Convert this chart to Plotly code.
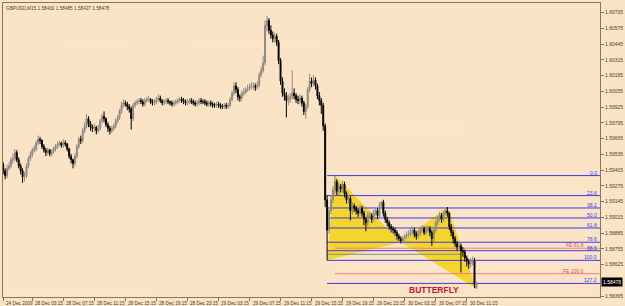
import plotly.graph_objects as go

# ---------------- data (GBPUSD M15) ----------------
opens = [
1.5945,1.5940,1.5936,1.5942,1.5944,1.5949,1.5950,1.5955,1.5949,1.5944,
1.5940,1.5935,1.5936,1.5944,1.5950,1.5953,1.5957,1.5958,1.5963,1.5966,
1.5965,1.5960,1.5957,1.5955,1.5957,1.5954,1.5956,1.5958,1.5960,1.5962,
1.5963,1.5961,1.5963,1.5962,1.5958,1.5952,1.5949,1.5946,1.5952,1.5960,
1.5966,1.5965,1.5973,1.5977,1.5983,1.5979,1.5976,1.5975,1.5976,1.5973,
1.5975,1.5981,1.5985,1.5983,1.5978,1.5975,1.5973,1.5975,1.5977,1.5981,
1.5984,1.5989,1.5994,1.5996,1.5995,1.5993,1.5991,1.5983,1.5994,1.5996,
1.5997,1.5998,1.5997,1.5995,1.5998,1.5999,1.5999,1.5997,1.5996,1.5997,
1.5999,1.6000,1.5998,1.5996,1.5997,1.5998,1.5997,1.5996,1.5995,1.5996,
1.5997,1.5998,1.5999,1.5998,1.5997,1.5996,1.5997,1.5998,1.5997,1.5996,
1.5995,1.5996,1.5998,1.5997,1.5997,1.5996,1.5995,1.5996,1.5995,1.5994,
1.5994,1.5995,1.5994,1.5993,1.5993,1.5994,1.5993,1.5994,1.5999,1.6004,
1.6010,1.6007,1.6001,1.6000,1.6004,1.6005,1.6007,1.6008,1.6009,1.6010,
1.6010,1.6009,1.6011,1.6019,1.6023,1.6029,1.6060,1.6064,1.6056,1.6052,
1.6049,1.6051,1.6046,1.6031,1.6014,1.6004,1.6002,1.5998,1.5999,1.6001,
1.6004,1.6002,1.5999,1.5998,1.6000,1.5996,1.5989,1.5993,1.6007,1.6014,
1.6012,1.6015,1.6010,1.6002,1.5998,1.5994,1.5977,1.5916,1.5891,1.5907,
1.5916,1.5924,1.5931,1.5923,1.5927,1.5925,1.5929,1.5921,1.5916,1.5917,
1.5907,1.5911,1.5909,1.5907,1.5905,1.5909,1.5905,1.5900,1.5897,1.5903,
1.5903,1.5900,1.5905,1.5907,1.5903,1.5911,1.5914,1.5905,1.5900,1.5897,
1.5894,1.5892,1.5891,1.5889,1.5886,1.5884,1.5882,1.5884,1.5886,1.5887,
1.5888,1.5889,1.5891,1.5888,1.5886,1.5888,1.5891,1.5892,1.5889,1.5891,
1.5892,1.5889,1.5884,1.5891,1.5897,1.5900,1.5903,1.5900,1.5905,1.5907,
1.5905,1.5894,1.5889,1.5884,1.5880,1.5877,1.5878,1.5874,1.5873,1.5868,
1.5865,1.5863,1.5865,1.5866,1.58430]

closes = [
1.5940,1.5936,1.5942,1.5944,1.5949,1.5950,1.5955,1.5949,1.5944,1.5940,
1.5935,1.5936,1.5944,1.5950,1.5953,1.5957,1.5958,1.5963,1.5966,1.5965,
1.5960,1.5957,1.5955,1.5957,1.5954,1.5956,1.5958,1.5960,1.5962,1.5963,
1.5961,1.5963,1.5962,1.5958,1.5952,1.5949,1.5946,1.5952,1.5960,1.5966,
1.5965,1.5973,1.5977,1.5983,1.5979,1.5976,1.5975,1.5976,1.5973,1.5975,
1.5981,1.5985,1.5983,1.5978,1.5975,1.5973,1.5975,1.5977,1.5981,1.5984,
1.5989,1.5994,1.5996,1.5995,1.5993,1.5991,1.5983,1.5994,1.5996,1.5997,
1.5998,1.5997,1.5995,1.5998,1.5999,1.5999,1.5997,1.5996,1.5997,1.5999,
1.6000,1.5998,1.5996,1.5997,1.5998,1.5997,1.5996,1.5995,1.5996,1.5997,
1.5998,1.5999,1.5998,1.5997,1.5996,1.5997,1.5998,1.5997,1.5996,1.5995,
1.5996,1.5998,1.5997,1.5997,1.5996,1.5995,1.5996,1.5995,1.5994,1.5994,
1.5995,1.5994,1.5993,1.5993,1.5994,1.5993,1.5994,1.5999,1.6004,1.6010,
1.6007,1.6001,1.6000,1.6004,1.6005,1.6007,1.6008,1.6009,1.6010,1.6010,
1.6009,1.6011,1.6019,1.6023,1.6029,1.6060,1.6064,1.6056,1.6052,1.6049,
1.6051,1.6046,1.6031,1.6014,1.6004,1.6002,1.5998,1.5999,1.6001,1.6004,
1.6002,1.5999,1.5998,1.6000,1.5996,1.5989,1.5993,1.6007,1.6014,1.6012,
1.6015,1.6010,1.6002,1.5998,1.5994,1.5977,1.5916,1.5891,1.5907,1.5916,
1.5924,1.5931,1.5923,1.5927,1.5925,1.5929,1.5921,1.5916,1.5917,1.5907,
1.5911,1.5909,1.5907,1.5905,1.5909,1.5905,1.5900,1.5897,1.5903,1.5903,
1.5900,1.5905,1.5907,1.5903,1.5911,1.5914,1.5905,1.5900,1.5897,1.5894,
1.5892,1.5891,1.5889,1.5886,1.5884,1.5882,1.5884,1.5886,1.5887,1.5888,
1.5889,1.5891,1.5888,1.5886,1.5888,1.5891,1.5892,1.5889,1.5891,1.5892,
1.5889,1.5884,1.5891,1.5897,1.5900,1.5903,1.5900,1.5905,1.5907,1.5905,
1.5894,1.5889,1.5884,1.5880,1.5877,1.5878,1.5874,1.5873,1.5868,1.5865,
1.5863,1.5865,1.5866,1.5846,1.58478]

highs = [
1.5947,1.5942,1.5945,1.5947,1.5951,1.5954,1.5958,1.5957,1.5951,1.5946,
1.5942,1.5939,1.5946,1.5952,1.5956,1.5959,1.5961,1.5965,1.5969,1.5968,
1.5966,1.5962,1.5959,1.5959,1.5958,1.5958,1.5960,1.5962,1.5964,1.5965,
1.5964,1.5966,1.5965,1.5963,1.5959,1.5954,1.5950,1.5954,1.5962,1.5968,
1.5969,1.5975,1.5980,1.5987,1.5985,1.5981,1.5978,1.5979,1.5977,1.5978,
1.5983,1.5987,1.5989,1.5984,1.5980,1.5977,1.5977,1.5979,1.5983,1.5986,
1.5991,1.5997,1.5999,1.5998,1.5997,1.5995,1.5993,1.5996,1.5998,1.5999,
1.6000,1.6000,1.5999,1.6000,1.6001,1.6002,1.6000,1.5999,1.5999,1.6001,
1.6003,1.6002,1.5999,1.5999,1.6000,1.6000,1.5998,1.5998,1.5998,1.5999,
1.6000,1.6001,1.6001,1.6000,1.5999,1.5999,1.6000,1.6000,1.5999,1.5998,
1.5998,1.6000,1.6000,1.5999,1.5999,1.5998,1.5998,1.5998,1.5997,1.5996,
1.5997,1.5997,1.5996,1.5995,1.5996,1.5996,1.5996,1.6001,1.6006,1.6013,
1.6013,1.6009,1.6003,1.6006,1.6008,1.6009,1.6011,1.6012,1.6013,1.6013,
1.6012,1.6014,1.6021,1.6026,1.6035,1.6064,1.6068,1.6066,1.6060,1.6055,
1.6054,1.6053,1.6048,1.6033,1.6017,1.6008,1.6005,1.6003,1.6004,1.6023,
1.6008,1.6004,1.6002,1.6003,1.6002,1.5998,1.5995,1.6009,1.6020,1.6017,
1.6019,1.6017,1.6012,1.6005,1.6000,1.5996,1.5979,1.5920,1.5910,1.5919,
1.5927,1.5936,1.5933,1.5930,1.5929,1.5932,1.5931,1.5923,1.5920,1.5919,
1.5914,1.5913,1.5911,1.5909,1.5912,1.5911,1.5907,1.5902,1.5906,1.5906,
1.5905,1.5908,1.5910,1.5909,1.5914,1.5915,1.5916,1.5907,1.5902,1.5899,
1.5896,1.5894,1.5893,1.5891,1.5888,1.5886,1.5886,1.5888,1.5890,1.5891,
1.5892,1.5894,1.5893,1.5890,1.5891,1.5894,1.5895,1.5894,1.5894,1.5895,
1.5894,1.5891,1.5893,1.5899,1.5903,1.5906,1.5905,1.5907,1.5909,1.5910,
1.5906,1.5896,1.5891,1.5886,1.5882,1.5881,1.5880,1.5877,1.5875,1.5870,
1.5867,1.5868,1.5869,1.5868,1.58485]

lows = [
1.5937,1.5933,1.5934,1.5940,1.5942,1.5946,1.5948,1.5947,1.5942,1.5937,
1.5930,1.5931,1.5934,1.5942,1.5948,1.5951,1.5955,1.5956,1.5961,1.5962,
1.5958,1.5955,1.5952,1.5953,1.5952,1.5952,1.5954,1.5956,1.5958,1.5960,
1.5959,1.5959,1.5960,1.5956,1.5950,1.5946,1.5942,1.5944,1.5950,1.5958,
1.5962,1.5963,1.5971,1.5975,1.5976,1.5973,1.5972,1.5973,1.5970,1.5971,
1.5973,1.5979,1.5980,1.5976,1.5972,1.5970,1.5971,1.5973,1.5975,1.5979,
1.5982,1.5987,1.5992,1.5993,1.5990,1.5988,1.5974,1.5981,1.5992,1.5994,
1.5995,1.5995,1.5993,1.5993,1.5996,1.5997,1.5995,1.5994,1.5994,1.5995,
1.5997,1.5996,1.5994,1.5994,1.5995,1.5995,1.5994,1.5993,1.5993,1.5994,
1.5995,1.5996,1.5996,1.5995,1.5994,1.5994,1.5995,1.5995,1.5994,1.5993,
1.5993,1.5994,1.5995,1.5995,1.5994,1.5993,1.5993,1.5993,1.5992,1.5992,
1.5992,1.5992,1.5991,1.5991,1.5991,1.5991,1.5991,1.5992,1.5997,1.6002,
1.6004,1.5998,1.5997,1.5998,1.6002,1.6003,1.6005,1.6006,1.6007,1.6007,
1.6006,1.6007,1.6009,1.6017,1.6021,1.6027,1.6055,1.6053,1.6049,1.6046,
1.6046,1.6043,1.6028,1.6011,1.6001,1.5998,1.5984,1.5994,1.5996,1.5999,
1.5999,1.5996,1.5995,1.5995,1.5993,1.5986,1.5983,1.5991,1.6005,1.6009,
1.6010,1.6007,1.5999,1.5994,1.5987,1.5973,1.5910,1.5866,1.5888,1.5904,
1.5913,1.5921,1.5920,1.5920,1.5922,1.5922,1.5918,1.5913,1.5913,1.5899,
1.5904,1.5906,1.5904,1.5902,1.5903,1.5902,1.5895,1.5890,1.5894,1.5900,
1.5897,1.5898,1.5903,1.5900,1.5901,1.5909,1.5902,1.5897,1.5894,1.5891,
1.5889,1.5888,1.5886,1.5883,1.5882,1.5880,1.5880,1.5882,1.5884,1.5885,
1.5886,1.5887,1.5885,1.5883,1.5884,1.5886,1.5889,1.5887,1.5887,1.5889,
1.5886,1.5878,1.5881,1.5889,1.5895,1.5898,1.5897,1.5898,1.5903,1.5902,
1.5891,1.5886,1.5880,1.5877,1.5874,1.5874,1.5856,1.5869,1.5865,1.5861,
1.5859,1.5860,1.5862,1.5843,1.58427]

# time axis labels (bar index where each label sits)
time_label_bars = [0, 15, 31, 47, 63, 79, 95, 111, 127, 143, 159, 175, 191, 207, 223, 239]
time_labels = ["24 Dec 2009", "28 Dec 03:15", "28 Dec 07:15", "28 Dec 11:15", "28 Dec 15:15",
               "28 Dec 19:15", "28 Dec 23:15", "29 Dec 03:15", "29 Dec 07:15", "29 Dec 11:15",
               "29 Dec 15:15", "29 Dec 19:15", "29 Dec 23:15", "30 Dec 03:15", "30 Dec 07:15",
               "30 Dec 11:15"]

# price scale labels (1.58495 sits under the current-price box)
price_ticks = [1.60705, 1.60575, 1.60445, 1.60315, 1.60185, 1.60055, 1.59925, 1.59795,
               1.59665, 1.59535, 1.59405, 1.59275, 1.59145, 1.59015, 1.58885, 1.58755,
               1.58625, 1.58365]

# butterfly pattern points X, A, B, C, D
pattern_names = ["X", "A", "B", "C", "D"]
pattern_bars = [167, 171, 205, 229, 244]
pattern_prices = [1.5866, 1.5936, 1.5881, 1.5910, 1.58427]

fib_levels = [0.0, 23.6, 38.2, 50.0, 61.8, 78.6, 88.6, 100.0, 127.2]
fe_levels = [61.8, 100.0]

# grey helper line inside the pattern
helper_line = dict(bar0=167, bar1=236, price=1.5871)

# faint white dotted rows (bar start, bar end, price)
dot_rows_bar0 = [32, 100, 172, 172, 174, 174, 174, -1, 174]
dot_rows_bar1 = [62, 164, 304, 304, 238, 238, 304, 78, 304]
dot_rows_price = [1.60464, 1.60464, 1.59279, 1.59049, 1.59814, 1.59732, 1.58629, 1.58374, 1.58374]

title_text = "GBPUSD,M15 1.58430 1.58485 1.58427 1.58478"
last_price = 1.58478
pattern_label = "BUTTERFLY"
pattern_label_price = 1.58415

# ---------------- styling ----------------
BG = "#FBE3C5"
AXIS = "#86765F"
TXT = "#4A4038"
UP = "#8E8A80"
DN = "#000000"
BLUE = "#3A3AF2"
PINK = "#EE7E8A"
YELLOW = "#F5D52A"
FONT = "Liberation Sans"

X_MIN, X_MAX = -0.1, 307.7
Y_MIN, Y_MAX = 1.583575, 1.60785

bars = list(range(len(closes)))

fig = go.Figure()

fig.add_trace(go.Candlestick(
    x=bars, open=opens, high=highs, low=lows, close=closes,
    increasing=dict(line=dict(color=UP, width=1), fillcolor=UP),
    decreasing=dict(line=dict(color=DN, width=1), fillcolor=DN),
    whiskerwidth=0, showlegend=False, hoverinfo="skip"))

shapes = []

for b0, b1, p in zip(dot_rows_bar0, dot_rows_bar1, dot_rows_price):
    shapes.append(dict(type="line", xref="x", yref="y", x0=b0, x1=b1, y0=p, y1=p,
                       line=dict(color="rgba(255,255,255,0.85)", width=1, dash="1px,6px"),
                       layer="below"))

# yellow triangles XAB and BCD
def tri(i0, i1, i2):
    pts = [(pattern_bars[i], pattern_prices[i]) for i in (i0, i1, i2)]
    path = "M {} {} L {} {} L {} {} Z".format(*[v for p in pts for v in p])
    return dict(type="path", path=path, xref="x", yref="y", fillcolor=YELLOW,
                line=dict(width=0), layer="below")
shapes.append(tri(0, 1, 2))
shapes.append(tri(2, 3, 4))

ann = []
A = pattern_prices[1]
X = pattern_prices[0]
B = pattern_prices[2]
C = pattern_prices[3]

shapes.append(dict(type="line", xref="x", yref="y", x0=helper_line["bar0"], x1=helper_line["bar1"],
                   y0=helper_line["price"], y1=helper_line["price"],
                   line=dict(color="#8A8A8A", width=1), layer="below"))

for lv in fib_levels:
    p = A - lv / 100.0 * (A - X)
    shapes.append(dict(type="line", xref="x", yref="y", x0=pattern_bars[0], x1=X_MAX,
                       y0=p, y1=p, line=dict(color=BLUE, width=1), layer="below"))
    ann.append(dict(xref="paper", yref="y", x=1, y=p, xanchor="right", yanchor="bottom",
                    text="%.1f" % lv, showarrow=False, xshift=-1, yshift=-2,
                    font=dict(family=FONT, size=5, color=BLUE)))
for lv in fe_levels:
    p = C - lv / 100.0 * (A - B)
    shapes.append(dict(type="line", xref="x", yref="y", x0=pattern_bars[1], x1=X_MAX,
                       y0=p, y1=p, line=dict(color=PINK, width=1), layer="below"))
    ann.append(dict(xref="paper", yref="y", x=1, y=p, xanchor="right", yanchor="bottom",
                    text="FE %.1f" % lv, showarrow=False, xshift=-14, yshift=-2,
                    font=dict(family=FONT, size=5, color="#E0506A")))

# time labels, left aligned after their tick
for b, t in zip(time_label_bars, time_labels):
    ann.append(dict(xref="x", yref="paper", x=b, y=0, xanchor="left", yanchor="top",
                    text=t, showarrow=False, xshift=1, yshift=-2,
                    font=dict(family=FONT, size=4.7, color=TXT)))

# header
ann.append(dict(xref="paper", yref="paper", x=0, y=1, xanchor="left", yanchor="top",
                text=title_text, showarrow=False, xshift=1, yshift=-1,
                font=dict(family=FONT, size=4.7, color=TXT)))
# pattern name
ann.append(dict(xref="x", yref="y", x=222, y=pattern_label_price,
                yanchor="middle", xanchor="center",
                text="<b>" + pattern_label + "</b>", showarrow=False,
                font=dict(family=FONT, size=8.5, color="#C8142E")))
# current price box
ann.append(dict(xref="paper", yref="y", x=1, y=last_price, xanchor="left", yanchor="middle",
                text=("%.5f" % last_price), showarrow=False, bgcolor="#000000",
                borderpad=1, xshift=1,
                font=dict(family=FONT, size=5, color="#FFFFFF")))

fig.update_layout(
    width=625, height=306,
    margin=dict(l=2, r=18, t=2, b=9),
    paper_bgcolor=BG, plot_bgcolor=BG,
    shapes=shapes, annotations=ann,
    showlegend=False,
    xaxis=dict(range=[X_MIN, X_MAX], rangeslider=dict(visible=False),
               showgrid=False, zeroline=False, showline=True, linecolor=AXIS,
               linewidth=1, mirror=True, ticks="outside", ticklen=3, tickcolor=AXIS,
               tickvals=time_label_bars, showticklabels=False, fixedrange=True),
    yaxis=dict(range=[Y_MIN, Y_MAX], side="right", showgrid=False, zeroline=False,
               showline=True, linecolor=AXIS, linewidth=1, mirror=True,
               ticks="outside", ticklen=3, tickcolor=AXIS,
               tickvals=price_ticks, ticktext=["%.5f" % v for v in price_ticks],
               tickfont=dict(family=FONT, size=5, color=TXT), fixedrange=True),
)

fig.write_html("out.html")
